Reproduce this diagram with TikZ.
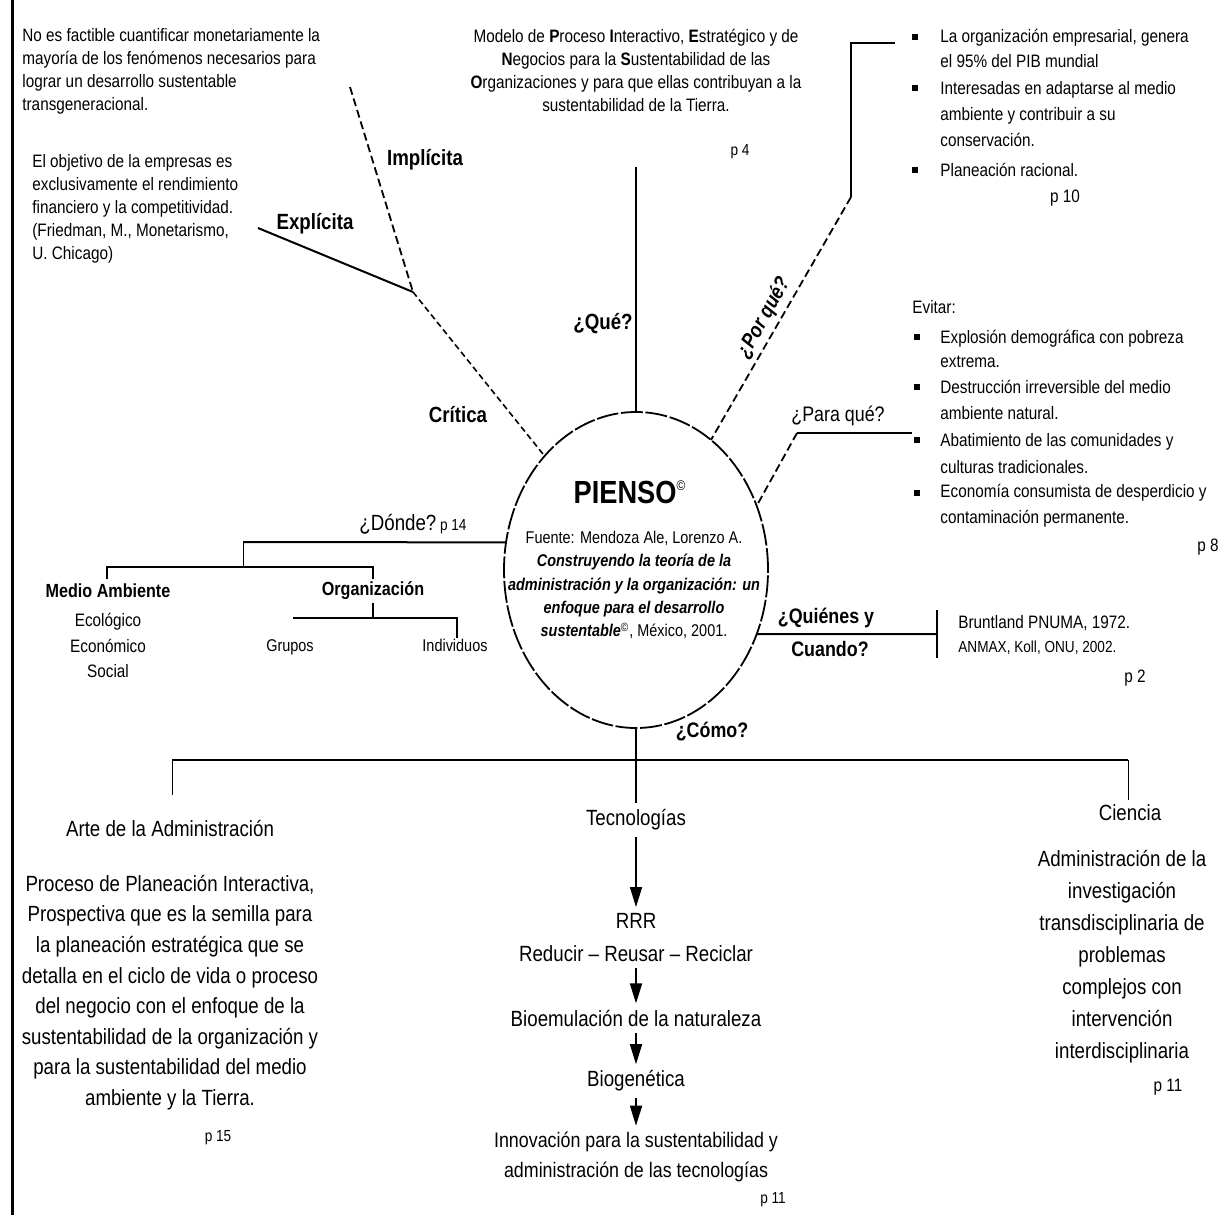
\documentclass[tikz,border=0pt]{standalone}
\usepackage{fontspec}
\setmainfont{Liberation Sans}[FakeStretch=0.85]
\usetikzlibrary{shapes.geometric,arrows.meta}
\tikzset{
  ln/.style={line width=1pt},
  thin ln/.style={line width=0.45pt},
  dsh/.style={line width=0.9pt, dash pattern=on 4pt off 2pt},
  dshf/.style={line width=0.8pt, dash pattern=on 3pt off 1.8pt},
  circ/.style={line width=0.9pt, dash pattern=on 11pt off 1.3pt},
  arr/.style={line width=0.8pt, -{Triangle[width=6pt,length=10pt]}},
  body/.style={font=\fontsize{9}{11.5}\selectfont, inner sep=0pt},
  bodyb/.style={font=\fontsize{11}{15.3}\selectfont, inner sep=0pt, align=center},
  flow/.style={font=\fontsize{11}{15}\selectfont, inner sep=3pt, align=center},
  lbl/.style={font=\bfseries\fontsize{11}{13}\selectfont, inner sep=0pt},
  small/.style={font=\fontsize{8}{9}\selectfont, inner sep=0pt},
}
\begin{document}
\begin{tikzpicture}[x=0.5pt,y=-0.5pt]
\useasboundingbox (0,0) rectangle (1229,1215);
\fill[white] (0,0) rectangle (1229,1215);
% left frame line
\coordinate (fa) at (12,0); \coordinate (fb) at (12,1215);
\draw[line width=1.5pt] (fa) -- (fb);

% central ellipse
\node[circ, draw, shape=ellipse, minimum width=132pt, minimum height=158pt, inner sep=0pt, outer sep=0pt] (pienso) at (636,570) {};
\node[font=\bfseries\fontsize{16}{18}\selectfont, inner sep=0pt] (pt) at (630,492) {PIENSO\textsuperscript{\normalfont\fontsize{7}{8}\selectfont ©}};
\node[font=\fontsize{8.5}{11.7}\selectfont, inner sep=0pt, align=center] (fu) at (634,585) {Fuente: Mendoza Ale, Lorenzo A.\\
\textbf{\textit{Construyendo la teoría de la}}\\
\textbf{\textit{administración y la organización: un}}\\
\textbf{\textit{enfoque para el desarrollo}}\\
\textbf{\textit{sustentable}}\textsuperscript{©}, México, 2001.};

% top-left texts
\node[body, anchor=west, align=left] (t1) at (22,71.5) {No es factible cuantificar monetariamente la\\mayoría de los fenómenos necesarios para\\lograr un desarrollo sustentable\\transgeneracional.};
\node[body, anchor=west, align=left] (t2) at (32,209) {El objetivo de la empresas es\\exclusivamente el rendimiento\\financiero y la competitividad.\\(Friedman, M., Monetarismo,\\U. Chicago)};

% top center text
\node[body, align=center] (tc) at (636,70.5) {Modelo de \textbf{P}roceso \textbf{I}nteractivo, \textbf{E}stratégico y de\\\textbf{N}egocios para la \textbf{S}ustentabilidad de las\\\textbf{O}rganizaciones y para que ellas contribuyan a la\\sustentabilidad de la Tierra.};
\node[small] (p4) at (740,152) {p 4};

% top right bullets
\fill (912,34) rectangle (918,40);
\fill (912,85) rectangle (918,91);
\fill (912,167) rectangle (918,173);
\node[body, anchor=west, align=left, font=\fontsize{9}{12.5}\selectfont] (b1) at (940,48.5) {La organización empresarial, genera\\el 95\% del PIB mundial};
\node[body, anchor=west, align=left, font=\fontsize{9}{12.8}\selectfont] (b2) at (940,114) {Interesadas en adaptarse al medio\\ambiente y contribuir a su\\conservación.};
\node[body, anchor=west] (b3) at (940,170) {Planeación racional.};
\node[body] (p10) at (1065,198) {p 10};

% right middle
\node[body, anchor=west] (ev) at (912,307) {Evitar:};
\fill (914,334) rectangle (920,340);
\fill (914,384) rectangle (920,390);
\fill (914,437) rectangle (920,443);
\fill (914,490) rectangle (920,496);
\node[body, anchor=west, align=left, font=\fontsize{9}{12}\selectfont] (e1) at (940,348.5) {Explosión demográfica con pobreza\\extrema.};
\node[body, anchor=west, align=left, font=\fontsize{9}{13}\selectfont] (e2) at (940,400) {Destrucción irreversible del medio\\ambiente natural.};
\node[body, anchor=west, align=left, font=\fontsize{9}{13.5}\selectfont] (e3) at (940,453.5) {Abatimiento de las comunidades y\\culturas tradicionales.};
\node[body, anchor=west, align=left, font=\fontsize{9}{13}\selectfont] (e4) at (940,506) {Economía consumista de desperdicio y\\contaminación permanente.};
\node[body] (p8) at (1208,547) {p 8};

% branch: Critica / Implicita / Explicita
\coordinate (jc) at (413,292);
\coordinate (imp) at (350,87);
\coordinate (exq) at (258,228);
\draw[dsh] (imp) -- (jc);
\draw[ln] (exq) -- (jc);
\draw[dshf] (jc) -- (pienso);
\node[lbl] (limp) at (425,160) {Implícita};
\node[lbl] (lexp) at (315,224) {Explícita};
\node[lbl] (lcri) at (458,415) {Crítica};

% branch: Que
\coordinate (qtop) at (636,167);
\draw[ln] (pienso.north) -- (qtop);
\node[lbl] (lque) at (603,324) {¿Qué?};

% branch: Por que
\coordinate (pq1) at (851,197);
\coordinate (pq2) at (851,43);
\coordinate (pq3) at (895,43);
\draw[ln] (pq3) -- (pq2) -- (pq1);
\draw[dsh] (pq1) -- (pienso);
\node[lbl, font=\bfseries\itshape\fontsize{10.5}{12}\selectfont, rotate=61] (lpq) at (764,318) {¿Por qué?};

% branch: Para que
\coordinate (pa1) at (797,433);
\coordinate (pa2) at (912,433);
\draw[ln] (pa1) -- (pa2);
\draw[dsh] (pa1) -- (pienso.28);
\node[font=\fontsize{10.5}{12}\selectfont, inner sep=0pt] (lpa) at (838,416) {¿Para qué?};

% branch: Donde
\coordinate (d1) at (243,542);
\coordinate (d2) at (243,567);
\coordinate (d3l) at (107,567);
\coordinate (d3r) at (373,567);
\coordinate (d4l) at (107,579);
\coordinate (d4r) at (373,579);
\draw[ln] (pienso.168) -- (d1);
\draw[thin ln] (d1) -- (d2);
\draw[ln] (d4l) -- (d3l) -- (d3r) -- (d4r);
\node[font=\fontsize{11}{13}\selectfont, inner sep=0pt] (ldn) at (413,524) {¿Dónde?\,{\fontsize{8}{9}\selectfont p 14}};
\node[font=\bfseries\fontsize{9.5}{11}\selectfont, inner sep=0pt] (ma) at (108,591) {Medio Ambiente};
\node[font=\fontsize{9}{12.75}\selectfont, inner sep=0pt, align=center] (ma2) at (108,645.5) {Ecológico\\Económico\\Social};
\node[font=\bfseries\fontsize{9.5}{11}\selectfont, inner sep=0pt] (org) at (373,591) {Organización};
\coordinate (o1) at (373,603);
\coordinate (o2) at (373,618);
\coordinate (o3l) at (293,618);
\coordinate (o3r) at (457,618);
\coordinate (o4r) at (457,638);
\draw[ln] (o1) -- (o2);
\draw[ln] (o3l) -- (o3r) -- (o4r);
\node[font=\fontsize{8.5}{10}\selectfont, inner sep=0pt] (gru) at (290,647) {Grupos};
\node[font=\fontsize{8.5}{10}\selectfont, inner sep=0pt] (ind) at (455,645) {Individuos};

% branch: Quienes y Cuando
\coordinate (qw) at (937,634);
\coordinate (qwa) at (937,610);
\coordinate (qwb) at (937,658);
\draw[ln] (pienso.-28) -- (qw);
\draw[ln] (qwa) -- (qwb);
\node[font=\bfseries\fontsize{10.5}{12}\selectfont, inner sep=0pt] (lqu) at (826,618) {¿Quiénes y};
\node[font=\bfseries\fontsize{10.5}{12}\selectfont, inner sep=0pt] (lcu) at (830,649) {Cuando?};
\node[body, anchor=west] (br) at (958,623) {Bruntland PNUMA, 1972.};
\node[small, anchor=west] (an) at (958,648) {ANMAX, Koll, ONU, 2002.};
\node[body] (p2) at (1135,678) {p 2};

% branch: Como
\node[lbl, font=\bfseries\fontsize{10.5}{12}\selectfont] (lco) at (712,732) {¿Cómo?};
\coordinate (hl) at (172,760);
\coordinate (hr) at (1128,760);
\coordinate (hl2) at (172,795);
\coordinate (hr2) at (1128,800);
\draw[ln] (hl) -- (hr);
\draw[thin ln] (hl) -- (hl2);
\draw[thin ln] (hr) -- (hr2);

% left bottom
\node[font=\fontsize{11}{12}\selectfont, inner sep=0pt] (arte) at (170,828) {Arte de la Administración};
\node[bodyb] (artep) at (170,992.5) {Proceso de Planeación Interactiva,\\Prospectiva que es la semilla para\\la planeación estratégica que se\\detalla en el ciclo de vida o proceso\\del negocio con el enfoque de la\\sustentabilidad de la organización y\\para la sustentabilidad del medio\\ambiente y la Tierra.};
\node[small] (p15) at (218,1138) {p 15};

% center bottom
\node[flow] (tec) at (636,820) {Tecnologías};
\node[flow] (rrr) at (636,921) {RRR};
\node[flow] (red) at (636,954) {Reducir – Reusar – Reciclar};
\node[flow] (bio) at (636,1018) {Bioemulación de la naturaleza};
\node[flow] (biog) at (636,1081) {Biogenética};
\node[flow, font=\fontsize{10.5}{15}\selectfont] (inn) at (636,1157) {Innovación para la sustentabilidad y\\administración de las tecnologías};
\node[small] (p11a) at (773,1200) {p 11};
\draw[ln] (pienso.south) -- (tec.north);
\draw[arr] (tec) -- (rrr);
\draw[arr] (red) -- (bio);
\draw[arr] (bio) -- (biog);
\draw[arr] (biog) -- (inn);

% right bottom
\node[font=\fontsize{11}{12}\selectfont, inner sep=0pt] (cie) at (1130,813) {Ciencia};
\node[bodyb, font=\fontsize{11}{16}\selectfont] (ciep) at (1122,956.5) {Administración de la\\investigación\\transdisciplinaria de\\problemas\\complejos con\\intervención\\interdisciplinaria};
\node[body] (p11b) at (1168,1087) {p 11};
\end{tikzpicture}
\end{document}
